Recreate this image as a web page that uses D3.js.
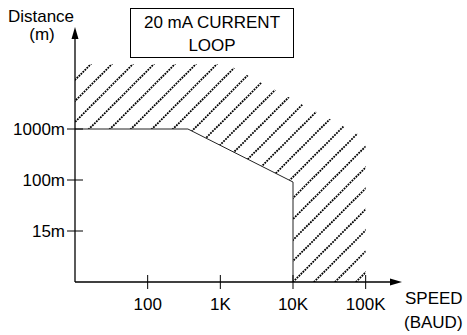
<!DOCTYPE html>
<html>
<head>
<meta charset="utf-8">
<script src="https://cdn.jsdelivr.net/npm/d3@7"></script>
<style>
  body { margin: 0; background: #fff; }
  text { font-family: 'Liberation Sans', Arial, sans-serif; font-size: 17px; fill: #000; }
</style>
</head>
<body>
<div id="chart"></div>
<script>
// speed axis (baud, log)
const speedTicks = [100, 1000, 10000, 100000]
const speedLabels = ['100', '1K', '10K', '100K']

// distance axis is drawn as evenly spaced levels, not a true scale
const distLevels = [1, 2, 3]
const distLabels = ['15m', '100m', '1000m']

// limit curve of the 20 mA loop (below = working area)
const limitSpeed = [10, 358, 10000, 10000]
const limitLevel = [3, 3, 1.96, 0]

// outer edge of the hatched band
const bandSpeed = [10, 1230, 100000, 100000]
const bandLevel = [4.27, 4.27, 2.82, 0]

const width = 467
const height = 335

const svg = d3
  .select('#chart')
  .append('svg')
  .attr('width', width)
  .attr('height', height)

let x = d3.scaleLog().domain([10, Math.pow(10, 5.5)]).range([75, 402])
let y = d3.scaleLinear().domain([0, 5]).range([282, 27])

// hatched region = band edge forward, limit curve backward
let region = []
bandSpeed.forEach((s, i) => region.push([x(s), y(bandLevel[i])]))
for (let i = limitSpeed.length - 1; i >= 0; i--) {
  region.push([x(limitSpeed[i]), y(limitLevel[i])])
}

svg
  .append('clipPath')
  .attr('id', 'hatch-clip')
  .append('path')
  .attr('d', 'M' + region.join('L') + 'Z')

let hatch = svg.append('g').attr('clip-path', 'url(#hatch-clip)')
for (let c = 218 - 21 * 10; c < 760; c += 21) {
  hatch
    .append('line')
    .attr('x1', c - 300)
    .attr('y1', 300)
    .attr('x2', c)
    .attr('y2', 0)
    .attr('stroke', '#000')
    .attr('stroke-width', 1.8)
    .attr('stroke-dasharray', '1.8,1')
}

// limit curve
let line = d3
  .line()
  .x((d, i) => x(limitSpeed[i]))
  .y((d, i) => y(limitLevel[i]))

svg
  .append('path')
  .datum(limitSpeed)
  .attr('d', line)
  .attr('fill', 'none')
  .attr('stroke', '#222')
  .attr('stroke-width', 1)

// axes
svg
  .append('line')
  .attr('x1', x(10))
  .attr('y1', y(0))
  .attr('x2', x(10))
  .attr('y2', y(5) + 8)
  .attr('stroke', '#000')
  .attr('stroke-width', 1.3)

svg
  .append('path')
  .attr('d', `M${x(10)},${y(5)}L${x(10) - 3.5},${y(5) + 12}L${x(10) + 3.5},${y(5) + 12}Z`)
  .attr('fill', '#000')

svg
  .append('line')
  .attr('x1', x(10))
  .attr('y1', y(0))
  .attr('x2', 394)
  .attr('y2', y(0))
  .attr('stroke', '#000')
  .attr('stroke-width', 1.3)

svg
  .append('path')
  .attr('d', `M402,${y(0)}L390,${y(0) - 3.5}L390,${y(0) + 3.5}Z`)
  .attr('fill', '#000')

// x ticks
svg
  .selectAll('.x-tick')
  .data(speedTicks)
  .enter()
  .append('line')
  .attr('class', 'x-tick')
  .attr('x1', d => x(d))
  .attr('x2', d => x(d))
  .attr('y1', y(0) - 7)
  .attr('y2', y(0) + 7)
  .attr('stroke', '#000')
  .attr('stroke-width', 1)

svg
  .selectAll('.x-label')
  .data(speedTicks)
  .enter()
  .append('text')
  .attr('class', 'x-label')
  .attr('x', d => x(d))
  .attr('y', 310)
  .attr('text-anchor', 'middle')
  .text((d, i) => speedLabels[i])

// y ticks
svg
  .selectAll('.y-tick')
  .data(distLevels)
  .enter()
  .append('line')
  .attr('class', 'y-tick')
  .attr('x1', x(10) - 8)
  .attr('x2', x(10) + 8)
  .attr('y1', d => y(d))
  .attr('y2', d => y(d))
  .attr('stroke', '#000')
  .attr('stroke-width', 1)

svg
  .selectAll('.y-label')
  .data(distLevels)
  .enter()
  .append('text')
  .attr('class', 'y-label')
  .attr('x', 65)
  .attr('y', d => y(d) + 6)
  .attr('text-anchor', 'end')
  .text((d, i) => distLabels[i])

// axis titles
svg.append('text').attr('x', 41).attr('y', 22).attr('text-anchor', 'middle').text('Distance')
svg.append('text').attr('x', 42).attr('y', 40).attr('text-anchor', 'middle').text('(m)')
svg.append('text').attr('x', 405).attr('y', 304).text('SPEED')
svg.append('text').attr('x', 404).attr('y', 328).text('(BAUD)')

// title box
svg
  .append('rect')
  .attr('x', 130.5)
  .attr('y', 8.5)
  .attr('width', 163)
  .attr('height', 49)
  .attr('fill', '#fff')
  .attr('stroke', '#000')
  .attr('stroke-width', 1)

svg.append('text').attr('x', 212).attr('y', 28).attr('text-anchor', 'middle').text('20 mA CURRENT')
svg.append('text').attr('x', 212).attr('y', 51).attr('text-anchor', 'middle').text('LOOP')
</script>
</body>
</html>
